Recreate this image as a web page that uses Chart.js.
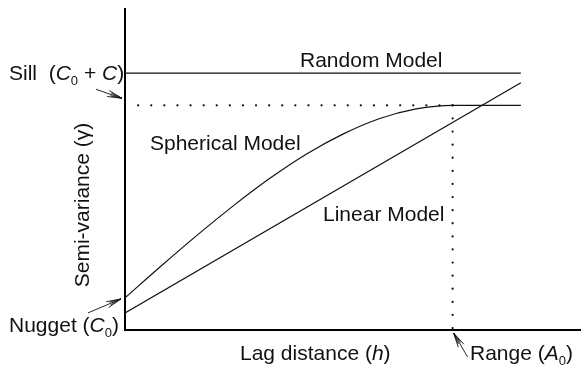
<!DOCTYPE html>
<html>
<head>
<meta charset="utf-8">
<script src="https://cdn.jsdelivr.net/npm/chart.js@4/dist/chart.umd.min.js"></script>
<style>
  html, body { margin: 0; padding: 0; background: #fff; }
  canvas { display: block; }
</style>
</head>
<body>
<canvas id="chart" width="581" height="375"></canvas>
<script>
// Variogram model values (lag distance h, semi-variance gamma), arbitrary units
const nugget = 10;          // C0
const sill = 70;            // C0 + C
const range = 72;           // A0
const lagEnd = 87;

const randomLag = [0, lagEnd];
const randomGamma = [80, 80];

const sphericalLag   = [0, 8, 16, 24, 32, 40, 48, 56, 64, 72, 87];
const sphericalGamma = [10, 20, 29.7, 38.9, 47.4, 54.9, 61.1, 65.9, 68.9, 70, 70];

const linearLag = [0, lagEnd];
const linearGamma = [5.3, 77];

const sillGuideLag = [0, range];
const sillGuideGamma = [sill, sill];

const rangeGuideLag = [range, range];
const rangeGuideGamma = [sill, 0];

const pts = (xs, ys) => xs.map((x, i) => ({ x, y: ys[i] }));

const FONT = '"Liberation Sans", Arial, Helvetica, sans-serif';
const INK = '#111';

// Draw a run of text pieces: [text, style] where style is 'n', 'i' (italic) or 'sub'
function drawRich(ctx, x, y, parts, size) {
  let cx = x;
  for (const [t, st] of parts) {
    if (st === 'sub') {
      ctx.font = `${Math.round(size * 0.62)}px ${FONT}`;
      ctx.fillText(t, cx, y + size * 0.22);
    } else {
      ctx.font = `${st === 'i' ? 'italic ' : ''}${size}px ${FONT}`;
      ctx.fillText(t, cx, y);
    }
    cx += ctx.measureText(t).width;
  }
  return cx - x;
}

function measureRich(ctx, parts, size) {
  let w = 0;
  for (const [t, st] of parts) {
    if (st === 'sub') ctx.font = `${Math.round(size * 0.62)}px ${FONT}`;
    else ctx.font = `${st === 'i' ? 'italic ' : ''}${size}px ${FONT}`;
    w += ctx.measureText(t).width;
  }
  return w;
}

// Line with an open, double-stroked arrow head pointing at (x2, y2)
function arrow(ctx, x1, y1, x2, y2) {
  const a = Math.atan2(y2 - y1, x2 - x1);
  ctx.save();
  ctx.strokeStyle = INK;
  ctx.lineWidth = 0.9;
  ctx.beginPath();
  ctx.moveTo(x1, y1);
  ctx.lineTo(x2, y2);
  for (const s of [-1, 1]) {
    for (const [len, ang] of [[15, 0.21], [12, 0.12]]) {
      ctx.moveTo(x2, y2);
      ctx.lineTo(x2 - len * Math.cos(a + s * ang), y2 - len * Math.sin(a + s * ang));
    }
  }
  ctx.stroke();
  ctx.restore();
}

const labelsPlugin = {
  id: 'variogramLabels',
  afterDraw(chart) {
    const { ctx, scales: { x, y } } = chart;
    const size = 21;
    ctx.save();
    ctx.fillStyle = INK;
    ctx.textBaseline = 'alphabetic';
    ctx.textAlign = 'left';

    // Sill label and arrow
    drawRich(ctx, 9, 80, [['Sill  (', 'n'], ['C', 'i'], ['0', 'sub'], [' + ', 'n'], ['C', 'i'], [')', 'n']], size);
    arrow(ctx, x.getPixelForValue(0) - 29, y.getPixelForValue(sill) - 16,
               x.getPixelForValue(0) - 3, y.getPixelForValue(sill) - 7);

    // Nugget label and arrow
    drawRich(ctx, 9, 332, [['Nugget (', 'n'], ['C', 'i'], ['0', 'sub'], [')', 'n']], size);
    arrow(ctx, x.getPixelForValue(0) - 37, y.getPixelForValue(nugget) + 15,
               x.getPixelForValue(0) - 4, y.getPixelForValue(nugget) + 1);

    // Model names
    ctx.font = `${size}px ${FONT}`;
    ctx.fillText('Random Model', 300, 67);
    ctx.fillText('Spherical Model', 150, 150);
    ctx.fillText('Linear Model', 323, 221);

    // X axis title
    const xParts = [['Lag distance (', 'n'], ['h', 'i'], [')', 'n']];
    drawRich(ctx, 240, 360, xParts, size);

    // Range label and arrow
    drawRich(ctx, 470, 360, [['Range (', 'n'], ['A', 'i'], ['0', 'sub'], [')', 'n']], size);
    arrow(ctx, x.getPixelForValue(range) + 15, y.getPixelForValue(0) + 27,
               x.getPixelForValue(range) + 1, y.getPixelForValue(0) + 3);

    // Y axis title (rotated)
    const yParts = [['Semi-variance (', 'n'], ['γ', 'n'], [')', 'n']];
    const yw = measureRich(ctx, yParts, size);
    ctx.save();
    ctx.translate(89, 205);
    ctx.rotate(-Math.PI / 2);
    drawRich(ctx, -yw / 2, 0, yParts, size);
    ctx.restore();

    ctx.restore();
  }
};

const lineDs = (data, extra) => Object.assign({
  data,
  showLine: true,
  borderColor: INK,
  borderWidth: 1.2,
  pointRadius: 0,
  fill: false,
  tension: 0
}, extra || {});

new Chart(document.getElementById('chart'), {
  type: 'scatter',
  data: {
    datasets: [
      lineDs(pts(randomLag, randomGamma), { label: 'Random Model' }),
      lineDs(pts(sphericalLag, sphericalGamma), { label: 'Spherical Model', cubicInterpolationMode: 'monotone' }),
      lineDs(pts(linearLag, linearGamma), { label: 'Linear Model' }),
      lineDs(pts(sillGuideLag, sillGuideGamma), { label: 'Sill', borderWidth: 2.2, borderDash: [0.1, 13], borderCapStyle: 'round' }),
      lineDs(pts(rangeGuideLag, rangeGuideGamma), { label: 'Range', borderWidth: 2.2, borderDash: [0.1, 13], borderCapStyle: 'round' })
    ]
  },
  options: {
    responsive: false,
    animation: false,
    devicePixelRatio: 1,
    layout: { padding: { left: 125, right: 1, top: 9, bottom: 45 } },
    plugins: { legend: { display: false }, tooltip: { enabled: false } },
    scales: {
      x: {
        type: 'linear', min: 0, max: 100,
        ticks: { display: false },
        grid: { display: false, drawTicks: false },
        border: { display: true, color: '#000', width: 2 },
        afterFit(s) { s.height = 0; }
      },
      y: {
        type: 'linear', min: 0, max: 100,
        ticks: { display: false },
        grid: { display: false, drawTicks: false },
        border: { display: true, color: '#000', width: 2 },
        afterFit(s) { s.width = 0; }
      }
    }
  },
  plugins: [labelsPlugin]
});
</script>
</body>
</html>
